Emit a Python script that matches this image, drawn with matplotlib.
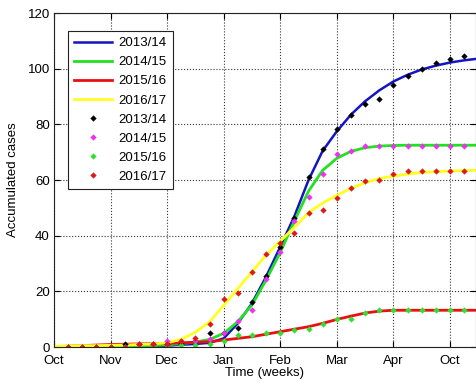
import numpy as np
import matplotlib
matplotlib.use('Agg')
import matplotlib.pyplot as plt

plt.rcParams['font.family'] = ['Liberation Sans', 'DejaVu Sans']

# weekly observed data (week 1..29)
obs_weeks = list(range(1, 30))
obs_1314 = [0, 0, 0, 0, 1, 1, 1, 1, 1, 2, 5, 5, 7, 16, 25.5, 36, 46.5, 61, 71.3,
            78.2, 83.2, 87.2, 89.2, 94.3, 97.4, 100, 102.2, 103.4, 104.5]
obs_1415 = [0, 0, 0, 0, 0, 1, 1, 2, 2, 2, 3, 5, 9.2, 13.3, 24.3, 34, 45.2, 54, 62.2,
            69.3, 70.4, 72.3, 72.3, 72.3, 72.3, 72.3, 72.3, 72.3, 72.3]
obs_1516 = [0, 0, 0, 0, 0, 0, 0, 0, 0.7, 0.7, 1, 2.2, 4.2, 4.2, 5.2, 5.2, 6.2, 6.3, 8.2,
            10.2, 10.2, 12.3, 13.2, 13.2, 13.2, 13.2, 13.2, 13.2, 13.2]
obs_1617 = [0, 0, 0, 0, 0, 1, 1, 1, 2.2, 3.1, 8.1, 17.1, 19.4, 27.1, 33.3, 37.3, 41.1, 48,
            49.1, 53.5, 57.3, 59.5, 60.1, 62, 63.2, 63.2, 63.2, 63.2, 63.2]

# fitted curves (read at weeks 0..30)
fit_weeks = list(range(0, 31))
fit_1314 = [0, 0, 0, 0, 0, 0.1, 0.2, 0.3, 0.5, 0.8, 1.1, 1.5, 3.1, 8.5, 15.7, 25.3, 36,
            47, 60, 70.5, 77.5, 83.5, 88.3, 92.2, 95.4, 97.8, 99.7, 101.1, 102.2, 103.0, 103.6]
fit_1415 = [0.1, 0.1, 0.1, 0.2, 0.2, 0.3, 0.4, 0.5, 0.8, 1.2, 1.8, 2.7, 4.9, 9.1, 15.1,
            24.1, 34, 45.3, 56, 63.5, 67.8, 70.3, 71.6, 72.2, 72.4, 72.5, 72.5, 72.5, 72.5,
            72.5, 72.5]
fit_1516 = [0.1, 0.3, 0.5, 0.7, 0.9, 1.0, 1.1, 1.2, 1.3, 1.5, 1.7, 1.9, 2.5, 3.1, 3.7,
            4.6, 5.5, 6.4, 7.3, 8.5, 9.9, 11.1, 12.2, 12.9, 13.2, 13.2, 13.2, 13.2, 13.2,
            13.2, 13.2]
fit_1617 = [0.3, 0.4, 0.5, 0.5, 0.6, 0.7, 0.9, 1.1, 1.5, 2.8, 5.3, 9.0, 15.0, 21.0, 27,
            33, 38, 43, 48.3, 51.7, 54.5, 57, 59, 60.5, 61.4, 62.1, 62.7, 63.0, 63.2, 63.4,
            63.5]

month_ticks = [0, 4, 8, 12, 16, 20, 24, 28]
month_labels = ['Oct', 'Nov', 'Dec', 'Jan', 'Feb', 'Mar', 'Apr', 'Oct']

fig = plt.figure(figsize=(4.76, 3.85), dpi=100)
ax = fig.add_axes([0.1134, 0.0987, 0.8866, 0.8675])

ax.plot(fit_weeks, fit_1314, color='#1414c0', lw=1.8, label='2013/14')
ax.plot(fit_weeks, fit_1415, color='#22e022', lw=2.0, label='2014/15')
ax.plot(fit_weeks, fit_1516, color='#e81010', lw=2.0, label='2015/16')
ax.plot(fit_weeks, fit_1617, color='#ffff22', lw=2.0, label='2016/17')

mk = dict(ls='none', marker='D', ms=3.2, mew=0)
ax.plot(obs_weeks, obs_1314, color='black', label='2013/14', **mk)
ax.plot(obs_weeks, obs_1415, color='#f030f0', label='2014/15', **mk)
ax.plot(obs_weeks, obs_1516, color='#30e030', label='2015/16', **mk)
ax.plot(obs_weeks, obs_1617, color='#e01818', label='2016/17', **mk)

ax.set_xlim(0, 29.84)
ax.set_ylim(0, 120)
ax.set_xticks(month_ticks)
ax.set_xticklabels(month_labels)
ax.set_yticks(range(0, 121, 20))
ax.tick_params(direction='in', length=4, top=True, right=True, labelsize=9.5)
ax.tick_params(axis='x', pad=6)
ax.tick_params(axis='y', pad=3)
ax.grid(True, linestyle=':', color='#333333', linewidth=0.8)
for s in ax.spines.values():
    s.set_color('#222222')

ax.set_xlabel('Time (weeks)', fontsize=9.5, labelpad=0)
ax.set_ylabel('Accumulated cases', fontsize=9.5, labelpad=6)

leg = ax.legend(loc='upper left', bbox_to_anchor=(0.033, 0.946), borderaxespad=0,
                fontsize=9.5, handlelength=2.9, handletextpad=0.5, fancybox=False,
                framealpha=1, edgecolor='#222222', labelspacing=0.52, borderpad=0.45)
leg.get_frame().set_linewidth(0.8)

fig.savefig('out.png', dpi=100)
